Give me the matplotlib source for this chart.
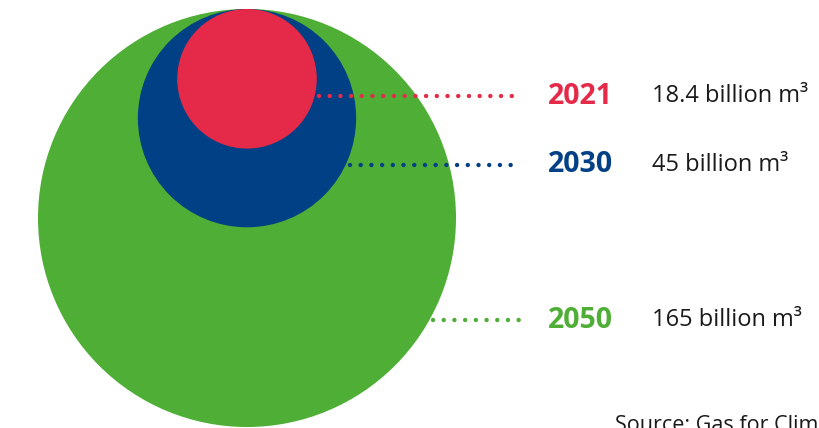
import numpy as np
import matplotlib
matplotlib.use("Agg")
import matplotlib.pyplot as plt
from matplotlib.patches import Circle

years = ["2021", "2030", "2050"]
values = [18.4, 45, 165]
value_labels = ["18.4 billion m³", "45 billion m³", "165 billion m³"]
colors = ["#E42A48", "#024085", "#4FAE35"]
source = "Source: Gas for Climate"

# layout in pixel coords
W, H = 819, 428
cx, top = 247, 9
r_max = 209
line_y = [96, 165, 320]
line_end = 519

plt.rcParams['lines.scale_dashes'] = False
fig = plt.figure(figsize=(W / 100, H / 100), dpi=100)
ax = fig.add_axes([0, 0, 1, 1])
ax.set_xlim(0, W)
ax.set_ylim(H, 0)
ax.set_aspect('equal')
ax.axis('off')

radii = [np.sqrt(v / max(values)) * r_max for v in values]

# biggest first so small ones sit on top
order = list(np.argsort(values)[::-1])
for k, i in enumerate(order):
    r = radii[i]
    ax.add_patch(Circle((cx, top + r), r, facecolor=colors[i], edgecolor='none', zorder=1 + k))

for i in range(len(years)):
    r = radii[i]
    cy = top + r
    dy = line_y[i] - cy
    x0 = cx + np.sqrt(max(r * r - dy * dy, 0)) + 4
    ax.plot([x0, line_end], [line_y[i], line_y[i]], color=colors[i], lw=3.2,
            dashes=(0.01, 7.7), dash_capstyle='round', zorder=10)
    ax.text(548, line_y[i], years[i], color=colors[i], fontsize=20.5, fontweight='bold',
            family='Open Sans', va='center', ha='left')
    ax.text(652, line_y[i], value_labels[i], color='#1a1a1a', fontsize=17,
            family='Open Sans', va='center', ha='left')

ax.text(615, 436, source, color='#1a1a1a', fontsize=15.5, family='Open Sans',
        va='bottom', ha='left')

fig.savefig("out.png", dpi=100)
